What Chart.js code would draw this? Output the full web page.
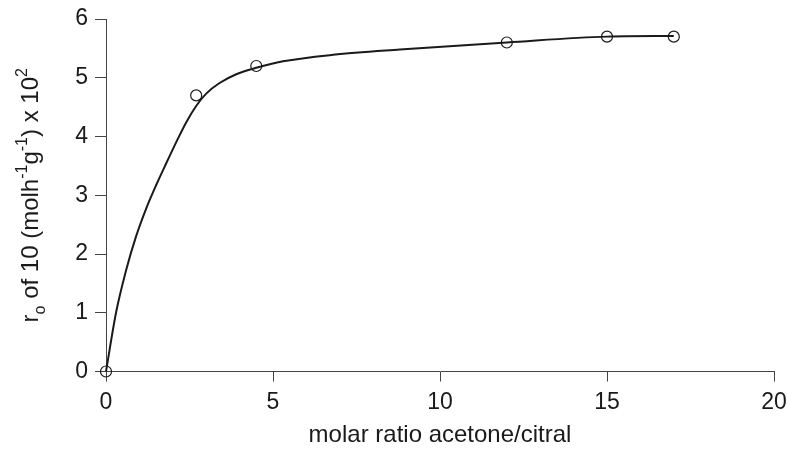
<!DOCTYPE html>
<html>
<head>
<meta charset="utf-8">
<script src="https://cdn.jsdelivr.net/npm/chart.js@4.4.1/dist/chart.umd.min.js"></script>
<style>
  html, body { margin: 0; padding: 0; background: #fff; }
  #wrap { width: 788px; height: 450px; }
</style>
</head>
<body>
<div id="wrap"><canvas id="chart" width="788" height="450"></canvas></div>
<script>
// measured rates (open circles)
const ratioPoints = [0, 2.7, 4.5, 12, 15, 17];
const ratePoints = [0, 4.7, 5.2, 5.6, 5.7, 5.7];

// fitted curve
const curveRatio = [0, 0.3, 0.6, 0.9, 1.2, 1.5, 1.8, 2.1, 2.4, 2.7, 3.0, 3.4, 3.9, 4.5, 5.3, 6.8, 8.8, 12, 15, 17];
const curveRate = [0, 1.0, 1.72, 2.3, 2.77, 3.17, 3.54, 3.9, 4.24, 4.52, 4.73, 4.91, 5.06, 5.17, 5.28, 5.39, 5.48, 5.6, 5.7, 5.71];

const xTicks = [0, 5, 10, 15, 20];
const yTicks = [0, 1, 2, 3, 4, 5, 6];

const xTitle = 'molar ratio acetone/citral';
// y title pieces: normal, subscript and superscript text
const yTitleParts = [
    { t: 'r' }, { t: 'o', sub: true }, { t: ' of 10 (molh' }, { t: '-1', sup: true },
    { t: 'g' }, { t: '-1', sup: true }, { t: ') x 10' }, { t: '2', sup: true }
];

const FONT = '"Liberation Sans", Arial, Helvetica, sans-serif';
const INK = '#1a1a1a';

// draws the rotated y axis title with sub/superscripts
const yTitlePlugin = {
    id: 'yTitle',
    afterDraw(chart) {
        const ctx = chart.ctx;
        const area = chart.chartArea;
        const big = '24px ' + FONT;
        const small = '16px ' + FONT;
        ctx.save();
        ctx.fillStyle = INK;
        ctx.textBaseline = 'alphabetic';
        let total = 0;
        yTitleParts.forEach(p => {
            ctx.font = (p.sub || p.sup) ? small : big;
            total += ctx.measureText(p.t).width;
        });
        ctx.translate(38, (area.top + area.bottom) / 2);
        ctx.rotate(-Math.PI / 2);
        let x = -total / 2;
        yTitleParts.forEach(p => {
            ctx.font = (p.sub || p.sup) ? small : big;
            let dy = 0;
            if (p.sup) dy = -11;
            if (p.sub) dy = 7;
            ctx.fillText(p.t, x, dy);
            x += ctx.measureText(p.t).width;
        });
        ctx.restore();
    }
};

new Chart(document.getElementById('chart'), {
    type: 'scatter',
    data: {
        datasets: [
            {
                type: 'line',
                data: curveRatio.map((v, i) => ({ x: v, y: curveRate[i] })),
                borderColor: INK,
                borderWidth: 2,
                pointRadius: 0,
                fill: false,
                cubicInterpolationMode: 'monotone',
                clip: false
            },
            {
                data: ratioPoints.map((v, i) => ({ x: v, y: ratePoints[i] })),
                pointStyle: 'circle',
                pointRadius: 5.5,
                pointBorderWidth: 1.2,
                pointBorderColor: INK,
                pointBackgroundColor: 'rgba(0,0,0,0)',
                clip: false
            }
        ]
    },
    options: {
        responsive: false,
        animation: false,
        devicePixelRatio: 1,
        layout: { padding: { left: 0, right: 14, top: 19, bottom: 0 } },
        plugins: {
            legend: { display: false },
            tooltip: { enabled: false }
        },
        scales: {
            x: {
                type: 'linear',
                min: 0,
                max: 20,
                afterFit: s => { s.height = 78.5; s.paddingLeft = 0; s.paddingRight = 0; },
                afterBuildTicks: s => { s.ticks = xTicks.map(v => ({ value: v })); },
                grid: { drawOnChartArea: false, drawTicks: true, tickLength: 10, color: '#444', lineWidth: 1 },
                border: { display: true, color: '#444', width: 1 },
                ticks: { color: INK, font: { family: FONT, size: 23 }, padding: 7, maxRotation: 0 },
                title: {
                    display: true,
                    text: xTitle,
                    color: INK,
                    font: { family: FONT, size: 24 },
                    padding: { top: 8, bottom: 0 }
                }
            },
            y: {
                type: 'linear',
                min: 0,
                max: 6,
                afterFit: s => { s.width = 106; s.paddingTop = 0; s.paddingBottom = 0; },
                afterBuildTicks: s => { s.ticks = yTicks.map(v => ({ value: v })); },
                grid: { drawOnChartArea: false, drawTicks: true, tickLength: 11, color: '#444', lineWidth: 1 },
                border: { display: true, color: '#444', width: 1 },
                ticks: { color: INK, font: { family: FONT, size: 23 }, padding: 7 }
            }
        }
    },
    plugins: [yTitlePlugin]
});
</script>
</body>
</html>
